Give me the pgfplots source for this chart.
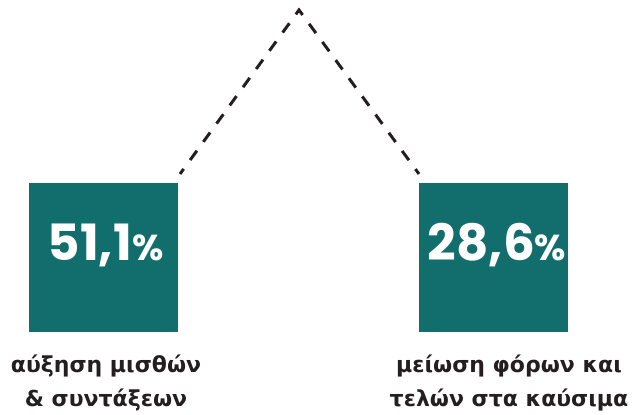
\documentclass[border=0pt]{standalone}
\usepackage{pgfplots}
\pgfplotsset{compat=1.18}
\usepackage{fontspec}
\setmainfont{DejaVu Sans}
\newfontfamily\numfont{Poppins}
\definecolor{teal1}{HTML}{116E6D}
\definecolor{ink}{HTML}{231F20}
\begin{document}
\begin{tikzpicture}
\begin{axis}[
  at={(0,0)}, anchor=south west,
  scale only axis, width=636pt, height=409pt,
  xmin=0, xmax=636, ymin=0, ymax=409,
  hide axis, clip=false,
]
% squares
\addplot[draw=none, fill=teal1] coordinates {(29,77) (178,77) (178,226) (29,226)} -- cycle;
\addplot[draw=none, fill=teal1] coordinates {(419,77) (568,77) (568,226) (419,226)} -- cycle;
% dashed peak
\addplot[ink, line width=3pt, dash pattern=on 11.5pt off 11pt, dash phase=5.25pt, line cap=butt, line join=miter] coordinates {(180,235) (299,399) (419,235)};
% values
\node[text=white, anchor=center] at (axis cs:105.5,163.5) {\numfont\bfseries\fontsize{50}{50}\selectfont 51,1{\fontsize{36}{36}\selectfont\%}};
\node[text=white, anchor=center] at (axis cs:497,163.5) {\numfont\bfseries\fontsize{50}{50}\selectfont 28,6{\fontsize{36}{36}\selectfont\%}};
% labels
\node[text=ink, align=center, anchor=center, font=\bfseries\fontsize{22}{34}\selectfont] at (axis cs:106,26) {αύξηση μισθών\\\& συντάξεων};
\node[text=ink, align=center, anchor=center, font=\bfseries\fontsize{22}{34}\selectfont] at (axis cs:509,26) {μείωση φόρων και\\τελών στα καύσιμα};
\end{axis}
\useasboundingbox (0,0) rectangle (636pt,409pt);
\end{tikzpicture}
\end{document}
